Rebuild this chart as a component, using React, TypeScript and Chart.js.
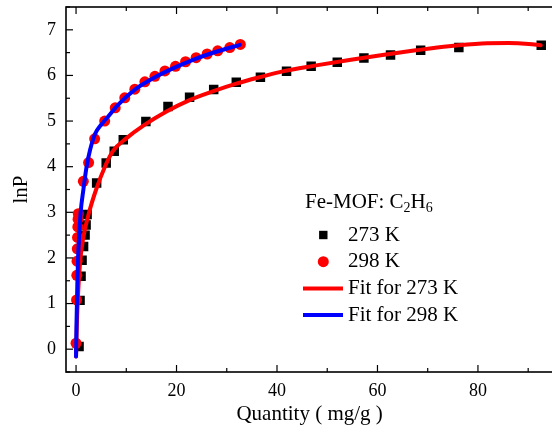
import React, { useEffect, useRef } from "react";
import { Chart, registerables } from "chart.js";

Chart.register(...registerables);

const FONT = '"Liberation Serif", "Times New Roman", Times, serif';

// 273 K measured points (Quantity, lnP)
const q273 = [0.6, 0.8, 1.0, 1.2, 1.5, 1.8, 2.0, 2.2, 4.1, 6.0, 7.6, 9.4, 13.9, 18.3, 22.6, 27.4, 31.9, 36.7, 41.9, 46.8, 52.0, 57.3, 62.6, 68.6, 76.2, 92.6];
const lnP273 = [0.06, 1.07, 1.6, 1.95, 2.25, 2.5, 2.72, 2.95, 3.64, 4.08, 4.34, 4.59, 4.99, 5.32, 5.52, 5.69, 5.85, 5.96, 6.09, 6.2, 6.29, 6.38, 6.45, 6.55, 6.61, 6.66];

// 298 K measured points
const q298 = [0.0, 0.1, 0.15, 0.2, 0.25, 0.3, 0.35, 0.4, 0.45, 1.45, 2.5, 3.7, 5.7, 7.8, 9.7, 11.7, 13.7, 15.7, 17.7, 19.8, 21.8, 23.9, 26.1, 28.2, 30.6, 32.7];
const lnP298 = [0.13, 1.08, 1.62, 1.93, 2.2, 2.45, 2.68, 2.85, 2.97, 3.68, 4.09, 4.61, 5.0, 5.29, 5.51, 5.7, 5.86, 5.98, 6.1, 6.2, 6.3, 6.39, 6.47, 6.54, 6.61, 6.68];

// Fit curves
const fitQ273 = [0.0, 0.15, 0.4, 0.8, 1.45, 2.6, 4.0, 5.75, 7.4, 10.0, 13.4, 18.0, 22.6, 27.2, 31.9, 37.2, 41.1, 47.8, 54.4, 61.0, 67.6, 74.2, 80.8, 86.1, 90.1, 92.5];
const fitLnP273 = [-0.16, 0.5, 1.2, 1.9, 2.45, 3.0, 3.5, 4.0, 4.35, 4.62, 4.9, 5.21, 5.46, 5.65, 5.82, 5.98, 6.09, 6.22, 6.34, 6.45, 6.55, 6.64, 6.7, 6.71, 6.69, 6.66];

const fitQ298 = [0.0, 0.1, 0.25, 0.4, 0.6, 0.9, 1.45, 2.1, 2.8, 3.8, 5.0, 6.4, 8.4, 11.7, 15.7, 19.6, 23.9, 28.2, 32.6];
const fitLnP298 = [-0.16, 0.6, 1.4, 2.0, 2.45, 2.98, 3.49, 4.0, 4.37, 4.72, 4.92, 5.1, 5.36, 5.69, 5.96, 6.17, 6.37, 6.53, 6.67];

// Axis tick labels
const xTickValues = [0, 20, 40, 60, 80];
const yTickValues = [0, 1, 2, 3, 4, 5, 6, 7];

const seriesLabels = ["273 K", "298 K", "Fit for 273 K", "Fit for 298 K"];
const legendTitle: [string, boolean][] = [["Fe-MOF: C", false], ["2", true], ["H", false], ["6", true]];
const xAxisTitle = "Quantity ( mg/g )";
const yAxisTitle = "lnP";

const pts = (xs: number[], ys: number[]) => xs.map((x, i) => ({ x, y: ys[i] }));

const framePlugin = {
  id: "frameTicks",
  afterDatasetsDraw(chart: any) {
    const { ctx, chartArea: a, scales } = chart;
    const xs = scales.x;
    const ys = scales.y;
    ctx.save();
    ctx.strokeStyle = "#000";
    ctx.lineWidth = 1.6;
    ctx.strokeRect(a.left, a.top, a.right - a.left, a.bottom - a.top);
    ctx.lineWidth = 1.2;
    const seg = (x1: number, y1: number, x2: number, y2: number) => {
      ctx.beginPath();
      ctx.moveTo(x1, y1);
      ctx.lineTo(x2, y2);
      ctx.stroke();
    };
    const xStep = xTickValues[1] - xTickValues[0];
    for (let v = xTickValues[0] - xStep / 2; v <= xs.max + 1e-6; v += xStep / 2) {
      if (v < xs.min - 1e-6) continue;
      const major = Math.abs(Math.round(v / xStep) * xStep - v) < 1e-6;
      const len = major ? 7 : 4;
      const p = xs.getPixelForValue(v);
      seg(p, a.bottom, p, a.bottom - len);
      seg(p, a.top, p, a.top + len);
    }
    const yStep = yTickValues[1] - yTickValues[0];
    for (let v = yTickValues[0] - yStep / 2; v <= ys.max + 1e-6; v += yStep / 2) {
      if (v < ys.min - 1e-6) continue;
      const major = Math.abs(Math.round(v / yStep) * yStep - v) < 1e-6;
      const len = major ? 7 : 4;
      const p = ys.getPixelForValue(v);
      seg(a.left, p, a.left + len, p);
    }
    ctx.restore();
  },
};

const legendPlugin = {
  id: "innerLegend",
  afterDraw(chart: any) {
    const { ctx } = chart;
    const titleX = 305;
    const titleY = 202;
    const rowY0 = 235;
    const rowGap = 26.7;
    const markX = 323.3;
    const textX = 348;
    ctx.save();
    ctx.fillStyle = "#000";
    ctx.textAlign = "left";
    ctx.textBaseline = "middle";
    let cx = titleX;
    for (const [t, sub] of legendTitle) {
      ctx.font = sub ? `14px ${FONT}` : `21px ${FONT}`;
      ctx.fillText(t, cx, sub ? titleY + 6 : titleY);
      cx += ctx.measureText(t).width;
    }
    chart.data.datasets.forEach((ds: any, i: number) => {
      const ry = rowY0 + i * rowGap;
      if (ds.showLine) {
        ctx.strokeStyle = ds.borderColor;
        ctx.lineWidth = ds.borderWidth;
        ctx.beginPath();
        ctx.moveTo(303, ry);
        ctx.lineTo(343, ry);
        ctx.stroke();
      } else if (ds.pointStyle === "rect") {
        ctx.fillStyle = ds.backgroundColor;
        ctx.fillRect(markX - 4.2, ry - 4.2, 8.4, 8.4);
      } else {
        ctx.fillStyle = ds.backgroundColor;
        ctx.beginPath();
        ctx.arc(markX, ry, 5.5, 0, Math.PI * 2);
        ctx.fill();
      }
      ctx.fillStyle = "#000";
      ctx.font = `21px ${FONT}`;
      ctx.fillText(ds.label, textX, ry);
    });
    ctx.restore();
  },
};

export default function App() {
  const ref = useRef<HTMLCanvasElement | null>(null);
  useEffect(() => {
    if (!ref.current) return;
    const chart = new Chart(ref.current, {
      type: "scatter",
      data: {
        datasets: [
          {
            label: seriesLabels[0],
            data: pts(q273, lnP273),
            pointStyle: "rect",
            pointRadius: 6.7,
            pointHoverRadius: 6.7,
            backgroundColor: "#000000",
            borderColor: "#000000",
            borderWidth: 0,
            showLine: false,
            order: 3,
          },
          {
            label: seriesLabels[1],
            data: pts(q298, lnP298),
            pointStyle: "circle",
            pointRadius: 5.5,
            pointHoverRadius: 5.5,
            backgroundColor: "#ff0000",
            borderColor: "#ff0000",
            borderWidth: 0,
            showLine: false,
            order: 1,
          },
          {
            label: seriesLabels[2],
            data: pts(fitQ273, fitLnP273),
            showLine: true,
            pointRadius: 0,
            borderColor: "#ff0000",
            backgroundColor: "#ff0000",
            borderWidth: 4,
            borderCapStyle: "round",
            cubicInterpolationMode: "monotone",
            order: 2,
          },
          {
            label: seriesLabels[3],
            data: pts(fitQ298, fitLnP298),
            showLine: true,
            pointRadius: 0,
            borderColor: "#0000ff",
            backgroundColor: "#0000ff",
            borderWidth: 4,
            borderCapStyle: "round",
            cubicInterpolationMode: "monotone",
            order: 0,
          },
        ],
      },
      options: {
        animation: false,
        responsive: false,
        devicePixelRatio: 1,
        layout: { padding: { left: 0, right: 5, top: 7, bottom: 0 } },
        plugins: { legend: { display: false }, tooltip: { enabled: false } },
        scales: {
          x: {
            type: "linear",
            min: -2,
            max: 95,
            afterBuildTicks: (s: any) => {
              s.ticks = xTickValues.map((v) => ({ value: v }));
            },
            ticks: {
              autoSkip: false,
              maxRotation: 0,
              color: "#000",
              padding: 8,
              font: { family: FONT, size: 18 },
            },
            grid: { display: false, drawTicks: false },
            border: { display: false },
            title: {
              display: true,
              text: xAxisTitle,
              color: "#000",
              font: { family: FONT, size: 21 },
              padding: { top: 0, bottom: 5 },
            },
            afterFit: (s: any) => {
              s.height = 60;
              s.paddingLeft = 0;
              s.paddingRight = 0;
            },
          },
          y: {
            type: "linear",
            min: -0.5,
            max: 7.5,
            afterBuildTicks: (s: any) => {
              s.ticks = yTickValues.map((v) => ({ value: v }));
            },
            ticks: {
              autoSkip: false,
              color: "#000",
              padding: 10,
              font: { family: FONT, size: 18 },
            },
            grid: { display: false, drawTicks: false },
            border: { display: false },
            title: {
              display: true,
              text: yAxisTitle,
              color: "#000",
              font: { family: FONT, size: 21 },
              padding: { top: 9, bottom: 0 },
            },
            afterFit: (s: any) => {
              s.width = 66;
              s.paddingTop = 0;
              s.paddingBottom = 0;
            },
          },
        },
      },
      plugins: [framePlugin, legendPlugin],
    } as any);
    return () => chart.destroy();
  }, []);

  return (
    <div
      style={{
        position: "fixed",
        left: 0,
        top: 0,
        width: 552,
        height: 432,
        overflow: "hidden",
        background: "#fff",
      }}
    >
      <canvas ref={ref} width={560} height={432} style={{ display: "block", width: 560, height: 432 }} />
    </div>
  );
}
